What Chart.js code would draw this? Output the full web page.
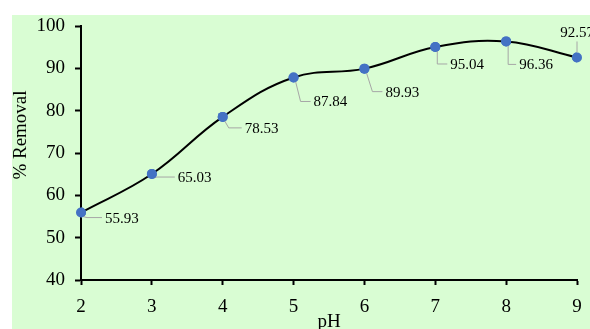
<!DOCTYPE html>
<html>
<head>
<meta charset="utf-8">
<script src="https://cdn.jsdelivr.net/npm/chart.js@4/dist/chart.umd.min.js"></script>
<style>
  html, body { margin: 0; padding: 0; background: #fff; }
  #wrap { width: 590px; height: 329px; }
</style>
</head>
<body>
<div id="wrap"><canvas id="chart" width="590" height="329"></canvas></div>
<script>
// data
const phValues = [2, 3, 4, 5, 6, 7, 8, 9];
const removal = [55.93, 65.03, 78.53, 87.84, 89.93, 95.04, 96.36, 92.57];
const yTicks = [40, 50, 60, 70, 80, 90, 100];

// leader line / label placement per point: [elbowX, elbowY, labelX]
const labelPos = [
  [6, 5, 24], [5, 3, 26], [6, 11, 22], [7, 24, 20],
  [8, 23, 21], [2, 17, 15], [2, 23, 13], [0, -16, 0]
];

const bgPlugin = {
  id: 'bg',
  beforeDraw(chart) {
    const ctx = chart.ctx;
    ctx.save();
    ctx.fillStyle = '#d9fdd3';
    ctx.fillRect(12, 15, chart.width - 12, chart.height - 15);
    // y axis title, drawn by hand so it sits a little above centre like the original
    ctx.translate(21, 135);
    ctx.rotate(-Math.PI / 2);
    ctx.fillStyle = '#000';
    ctx.font = '19px "Liberation Serif"';
    ctx.textAlign = 'center';
    ctx.textBaseline = 'middle';
    ctx.fillText('% Removal', 0, 0);
    ctx.restore();
  }
};

const leaderPlugin = {
  id: 'leaders',
  afterDatasetsDraw(chart) {
    const ctx = chart.ctx;
    const meta = chart.getDatasetMeta(0);
    ctx.save();
    ctx.font = '15px "Liberation Serif"';
    ctx.fillStyle = '#000';
    meta.data.forEach((pt, i) => {
      const [ex, ey, lx] = labelPos[i];
      const x = pt.x, y = pt.y;
      const txt = removal[i].toFixed(2);
      ctx.strokeStyle = '#a6a6a6';
      ctx.lineWidth = 1;
      if (ey < 0) {
        ctx.beginPath();
        ctx.moveTo(x, y - 5);
        ctx.lineTo(x, y + ey);
        ctx.stroke();
        ctx.textAlign = 'center';
        ctx.textBaseline = 'bottom';
        ctx.fillText(txt, x, y + ey - 1);
      } else {
        ctx.beginPath();
        ctx.moveTo(x + 2, y + 4);
        ctx.lineTo(x + ex, y + ey);
        ctx.lineTo(x + lx - 3, y + ey);
        ctx.stroke();
        ctx.textAlign = 'left';
        ctx.textBaseline = 'middle';
        ctx.fillText(txt, x + lx, y + ey + 1);
      }
      // redraw the point on top of the leader
      ctx.beginPath();
      ctx.fillStyle = '#4472c4';
      ctx.arc(x, y, 5, 0, Math.PI * 2);
      ctx.fill();
      ctx.fillStyle = '#000';
    });
    ctx.restore();
  }
};

new Chart(document.getElementById('chart'), {
  type: 'line',
  data: {
    datasets: [{
      data: phValues.map((p, i) => ({ x: p, y: removal[i] })),
      borderColor: '#000',
      borderWidth: 2,
      tension: 0.4,
      pointRadius: 5,
      pointBackgroundColor: '#4472c4',
      pointBorderWidth: 0
    }]
  },
  options: {
    responsive: false,
    animation: false,
    layout: { padding: { top: 26, right: 13, left: 12, bottom: 0 } },
    plugins: { legend: { display: false }, tooltip: { enabled: false } },
    scales: {
      x: {
        type: 'linear',
        min: 2,
        max: 9,
        afterFit(s) { s.height = 49; s.paddingRight = 0; s.paddingLeft = 0; },
        border: { color: '#000', width: 2 },
        grid: { drawOnChartArea: false, tickLength: 5, color: '#000', tickWidth: 2 },
        ticks: {
          stepSize: 1,
          color: '#000',
          padding: 11,
          font: { family: 'Liberation Serif', size: 19 }
        },
        title: {
          display: true,
          text: 'pH',
          color: '#000',
          padding: { top: 0, bottom: -4 },
          font: { family: 'Liberation Serif', size: 19 }
        }
      },
      y: {
        min: yTicks[0],
        max: yTicks[yTicks.length - 1],
        afterFit(s) { s.width = 69; },
        border: { color: '#000', width: 2 },
        grid: { drawOnChartArea: false, tickLength: 6, color: '#000', tickWidth: 2 },
        ticks: {
          stepSize: 5,
          color: '#000',
          padding: 10,
          font: { family: 'Liberation Serif', size: 19 },
          callback: v => yTicks.includes(v) ? String(v) : ''
        },
        title: { display: false }
      }
    }
  },
  plugins: [bgPlugin, leaderPlugin]
});
</script>
</body>
</html>
